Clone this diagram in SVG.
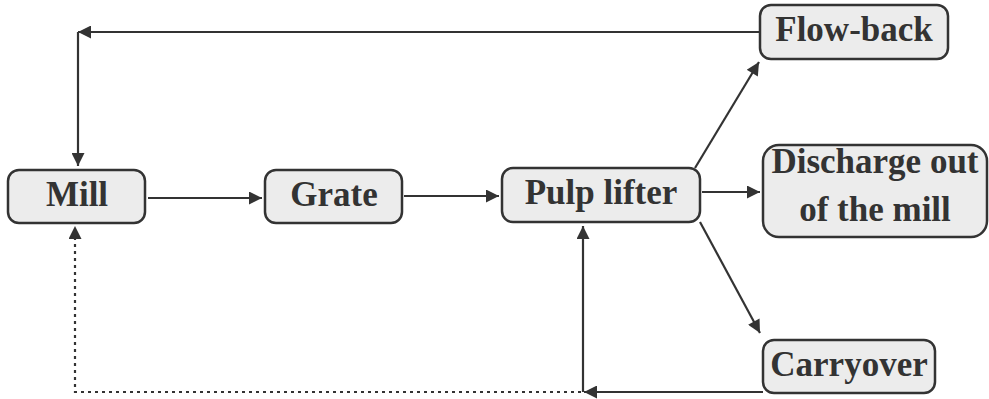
<svg xmlns="http://www.w3.org/2000/svg" width="989" height="399" viewBox="0 0 989 399">
<defs>
<style>
.box{fill:#ececec;stroke:#333;stroke-width:2.5}
.t{font-family:"Liberation Serif","Times New Roman",serif;font-weight:bold;font-size:35px;fill:#333;text-anchor:middle}
.c{stroke:#333;stroke-width:2.2;fill:none}
.d{stroke:#333;stroke-width:2.2;fill:none;stroke-dasharray:3 4}
</style>
<marker id="ah" viewBox="0 0 10 10" refX="10" refY="5" markerWidth="15" markerHeight="13" markerUnits="userSpaceOnUse" orient="auto">
<path d="M0,0 L10,5 L0,10 z" fill="#333"/>
</marker>
</defs>
<rect width="989" height="399" fill="#fff"/>
<g id="connectors">
<path class="c" d="M760,32 H78" marker-end="url(#ah)"/>
<path class="c" d="M78,32 V166" marker-end="url(#ah)"/>
<path class="c" d="M148,198 H262" marker-end="url(#ah)"/>
<path class="c" d="M404,196 H499" marker-end="url(#ah)"/>
<path class="c" d="M702,192 H760" marker-end="url(#ah)"/>
<path class="c" d="M695,168 L759,62" marker-end="url(#ah)"/>
<path class="c" d="M700,222 L760,333" marker-end="url(#ah)"/>
<path class="c" d="M763,392 H584" marker-end="url(#ah)"/>
<path class="c" d="M583,392 V226" marker-end="url(#ah)"/>
<path class="d" d="M581,392 H75 V226" marker-end="url(#ah)"/>
</g>
<g id="mill"><rect class="box" x="8" y="170" width="137" height="53" rx="11"/><text class="t" x="77" y="206">Mill</text></g>
<g id="grate"><rect class="box" x="265" y="170" width="137" height="53" rx="11"/><text class="t" x="334" y="206">Grate</text></g>
<g id="pulp-lifter"><rect class="box" x="502" y="168" width="198" height="54" rx="11"/><text class="t" x="601" y="204">Pulp lifter</text></g>
<g id="flow-back"><rect class="box" x="760" y="5" width="188" height="54" rx="11"/><text class="t" x="854" y="41">Flow-back</text></g>
<g id="discharge"><rect class="box" x="763" y="145" width="224" height="92" rx="16"/><text class="t" x="875" y="173">Discharge out</text><text class="t" x="875" y="221">of the mill</text></g>
<g id="carryover"><rect class="box" x="763" y="340" width="172" height="53" rx="11"/><text class="t" x="849" y="376">Carryover</text></g>
</svg>
